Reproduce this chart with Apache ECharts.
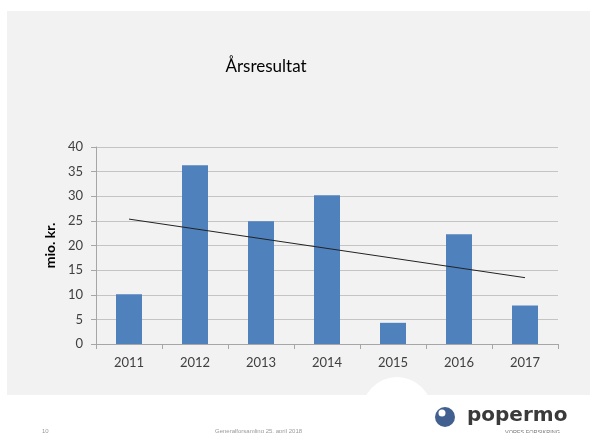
<!DOCTYPE html>
<html>
<head>
<meta charset="utf-8">
<script src="https://cdn.jsdelivr.net/npm/echarts@6/dist/echarts.min.js"></script>
<style>
html,body{margin:0;padding:0;background:#fff;}
#c{width:590px;height:433px;}
</style>
</head>
<body>
<div id="c"></div>
<script>
const years = ['2011', '2012', '2013', '2014', '2015', '2016', '2017'];
const values = [10.1, 36.3, 24.9, 30.2, 4.3, 22.3, 7.8];
const chartTitle = 'Årsresultat';
const yAxisName = 'mio. kr.';
const footerPage = '10';
const footerText = 'Generalforsamling 25. april 2018';
const logoText = 'popermo';
const logoSub = 'VORES FORSIKRING';

// linear trend line (least squares) from the values
const n = values.length;
const mx = (n - 1) / 2;
const my = values.reduce((a, b) => a + b, 0) / n;
let sxy = 0, sxx = 0;
values.forEach((v, i) => { sxy += (i - mx) * (v - my); sxx += (i - mx) * (i - mx); });
const slope = sxy / sxx;
const trend = values.map((v, i) => +(my + slope * (i - mx)).toFixed(3));

const chart = echarts.init(document.getElementById('c'), null, {renderer: 'canvas'});
const font = 'Lato, "Liberation Sans", sans-serif';
chart.setOption({
  animation: false,
  backgroundColor: 'transparent',
  graphic: [
    {type: 'rect', z: -100, silent: true, shape: {x: 7, y: 11, width: 583, height: 384}, style: {fill: '#f2f2f2'}},
    {type: 'circle', z: -99, silent: true, shape: {cx: 397, cy: 412, r: 35}, style: {fill: '#ffffff'}},
    {type: 'text', x: 266, y: 67, style: {text: chartTitle, font: '17px ' + font, fill: '#000', align: 'center', verticalAlign: 'middle'}},
    {type: 'text', x: 42, y: 431, style: {text: footerPage, font: '6px "Liberation Sans", sans-serif', fill: '#9a9a9a', verticalAlign: 'middle'}},
    {type: 'text', x: 215, y: 431, style: {text: footerText, font: '6px "Liberation Sans", sans-serif', fill: '#9a9a9a', verticalAlign: 'middle'}},
    {type: 'circle', shape: {cx: 445, cy: 417, r: 10}, style: {fill: '#41608f'}},
    {type: 'circle', shape: {cx: 442, cy: 413, r: 3.5}, style: {fill: '#ffffff'}},
    {type: 'text', x: 467, y: 416, style: {text: logoText, font: 'bold 20px "DejaVu Sans", sans-serif', fill: '#3a3a3a', verticalAlign: 'middle'}},
    {type: 'text', x: 505, y: 432, style: {text: logoSub, font: '5.5px "Liberation Sans", sans-serif', fill: '#777', verticalAlign: 'middle'}}
  ],
  grid: {left: 96, right: 32, top: 147, bottom: 89, containLabel: false},
  xAxis: {
    type: 'category',
    data: years,
    boundaryGap: true,
    axisLine: {show: true, lineStyle: {color: '#a6a6a6', width: 1}},
    axisTick: {show: true, length: 5, lineStyle: {color: '#a6a6a6'}},
    axisLabel: {color: '#404040', fontSize: 13, fontFamily: font, margin: 12}
  },
  yAxis: {
    type: 'value',
    min: 0, max: 40, interval: 5,
    name: yAxisName,
    nameLocation: 'middle',
    nameGap: 34,
    nameTextStyle: {color: '#000', fontSize: 14, fontWeight: 'bold', fontFamily: font},
    axisLine: {show: true, lineStyle: {color: '#a6a6a6', width: 1}},
    axisTick: {show: true, length: 5, lineStyle: {color: '#a6a6a6'}},
    axisLabel: {color: '#404040', fontSize: 13, fontFamily: font, margin: 13},
    splitLine: {show: true, lineStyle: {color: '#c4c4c4', width: 1}}
  },
  series: [
    {type: 'bar', data: values, barWidth: 26, itemStyle: {color: '#4f81bd'}, z: 2},
    {type: 'line', data: trend, symbol: 'none', lineStyle: {color: '#222', width: 1}, z: 3}
  ]
});
</script>
</body>
</html>
